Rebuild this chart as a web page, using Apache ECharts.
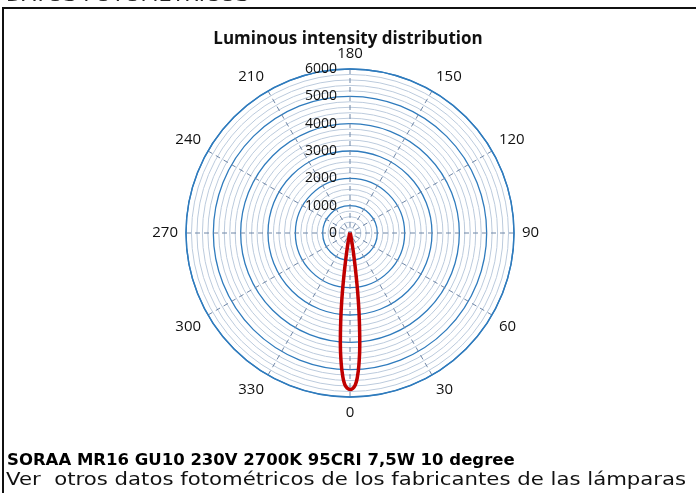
<!DOCTYPE html>
<html>
<head>
<meta charset="utf-8">
<script src="https://cdn.jsdelivr.net/npm/echarts@6/dist/echarts.min.js"></script>
<style>
  html, body { margin: 0; padding: 0; background: #fff; }
  #chart { width: 696px; height: 493px; }
</style>
</head>
<body>
<div id="chart"></div>
<script>
// photometric angles as printed on the chart (0 = straight down)
const beamAngles = [-90, -60, -45, -30, -20, -15, -12, -10, -9, -8, -7, -6, -5, -4, -3, -2, -1, 0,
  1, 2, 3, 4, 5, 6, 7, 8, 9, 10, 12, 15, 20, 30, 45, 60, 90];
// luminous intensity, cd
const intensity = [0, 5, 15, 30, 70, 150, 300, 650, 1050, 1650, 2450, 3250, 4050, 4700, 5200, 5540, 5680, 5730,
  5690, 5560, 5250, 4750, 4100, 3300, 2500, 1700, 1100, 700, 300, 150, 70, 30, 15, 5, 0];

const angleTicks = [0, 30, 60, 90, 120, 150, 180, 210, 240, 270, 300, 330];
const radiusMax = 6000;
const radiusStep = 1000;

const chart = echarts.init(document.getElementById('chart'));

// axis value v runs counter-clockwise from the top, printed label is v+180
const toAxis = a => a + 180;
const lineData = beamAngles.map((a, i) => [intensity[i], toAxis(a)]);

const font = "'Open Sans', 'Liberation Sans', sans-serif";
const textFont = "'DejaVu Sans', sans-serif";

chart.setOption({
  animation: false,
  title: {
    text: 'Luminous intensity distribution',
    left: 'center',
    top: 26,
    textStyle: { fontFamily: font, fontSize: 17, fontWeight: 'bold', color: '#111' }
  },
  polar: {
    center: [350, 233],
    radius: 164
  },
  angleAxis: {
    type: 'value',
    min: 0,
    max: 360,
    interval: 30,
    startAngle: 90,
    clockwise: false,
    axisLine: { lineStyle: { color: '#2f7bbd', width: 1.4 } },
    axisTick: { show: false },
    axisLabel: {
      margin: 8,
      color: '#111',
      fontFamily: font,
      fontSize: 15,
      formatter: v => angleTicks.includes((v + 180) % 360) ? String((v + 180) % 360) : ''
    },
    splitLine: { lineStyle: { color: '#6f86a6', type: [5, 4], width: 1 } }
  },
  radiusAxis: {
    type: 'value',
    min: 0,
    max: radiusMax,
    interval: radiusStep,
    axisLine: { show: false },
    axisTick: { show: false },
    axisLabel: { margin: 13, color: '#111', fontFamily: font, fontSize: 14, formatter: v => String(v) },
    splitLine: { lineStyle: { color: '#2f7bbd', width: 1.3 } },
    minorTick: { show: false, splitNumber: 5 },
    minorSplitLine: { show: true, lineStyle: { color: '#bccbdd', width: 1 } }
  },
  series: [{
    type: 'line',
    coordinateSystem: 'polar',
    data: lineData,
    smooth: true,
    showSymbol: false,
    lineStyle: { color: '#c00000', width: 3.5 },
    z: 5
  }],
  graphic: [
    { type: 'line', shape: { x1: 2, y1: 8, x2: 696, y2: 8 }, style: { stroke: '#111', lineWidth: 2 } },
    { type: 'line', shape: { x1: 3, y1: 8, x2: 3, y2: 493 }, style: { stroke: '#111', lineWidth: 2 } },
    {
      type: 'text', x: 6, y: -11, scaleX: 1.3,
      style: { text: 'DATOS FOTOMÉTRICOS', fill: '#222', font: '16px ' + textFont }
    },
    {
      type: 'text', left: 7, top: 452,
      style: { text: 'SORAA MR16 GU10 230V 2700K 95CRI 7,5W 10 degree', fill: '#000', font: 'bold 16.5px ' + textFont }
    },
    {
      type: 'text', x: 6, y: 471, scaleX: 1.18,
      style: { text: 'Ver  otros datos fotométricos de los fabricantes de las lámparas', fill: '#111', font: '18px ' + textFont }
    }
  ]
});
</script>
</body>
</html>
